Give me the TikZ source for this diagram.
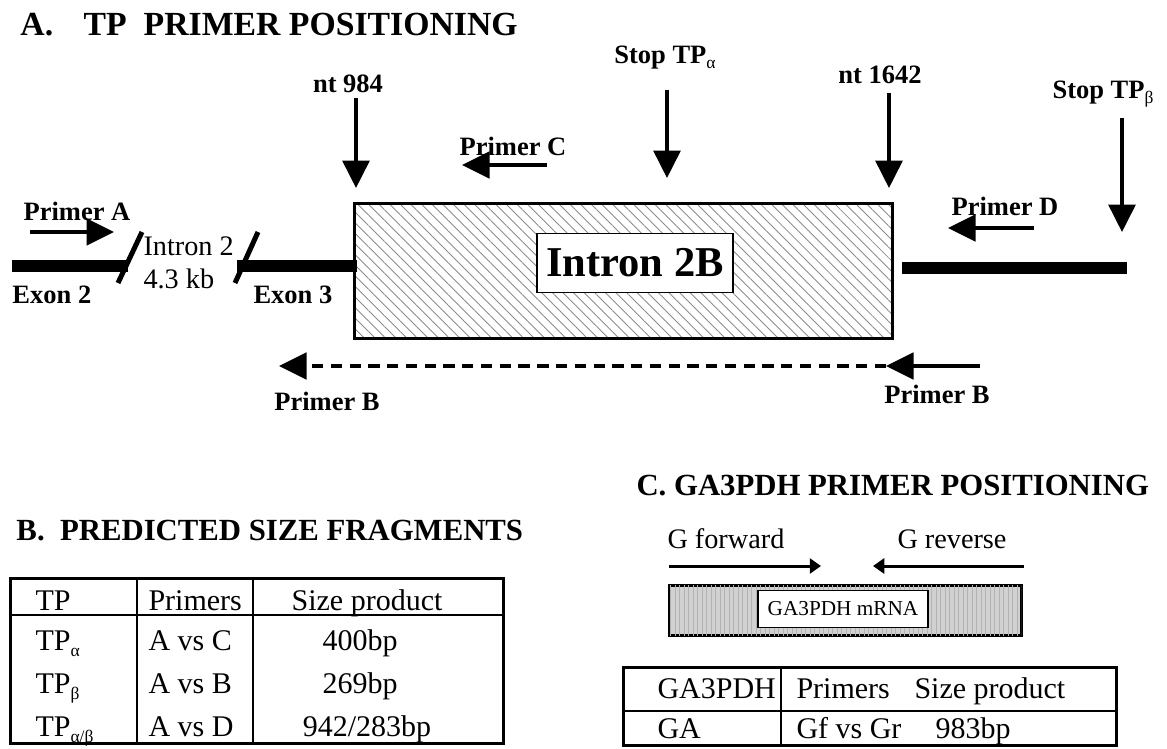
\documentclass[tikz,border=0pt]{standalone}
\usepackage{fontspec}
\setmainfont{Liberation Serif}
\usetikzlibrary{arrows.meta,patterns.meta}
\newcommand\titlefont{\fontsize{13.5}{15}\selectfont\bfseries}
\newcommand\headfont{\fontsize{12.3}{14}\selectfont\bfseries}
\newcommand\lblfont{\fontsize{10.6}{12}\selectfont\bfseries}
\newcommand\plainfont{\fontsize{11.3}{13}\selectfont}
\newcommand\tabfont{\fontsize{12}{14}\selectfont}
\newcommand\greeksub[1]{\raisebox{-0.45ex}{\normalfont\scriptsize #1}}
\begin{document}
\begin{tikzpicture}[x=0.4pt, y=-0.4pt,
  lbl/.style={font=\lblfont, inner sep=0pt, anchor=base},
  txt/.style={font=\plainfont, inner sep=0pt, anchor=base west},
  tab/.style={font=\tabfont, inner sep=0pt, anchor=base west},
  sitearrow/.style={line width=1.3pt, -{Triangle[length=11pt,width=10.8pt]}},
  primerarrow/.style={line width=1.6pt, -{Triangle[length=11pt,width=10.5pt]}},
  garrow/.style={line width=1.2pt, -{Triangle[length=4.5pt,width=6pt]}},
  exonbar/.style={line width=5pt},
  slashmark/.style={line width=2pt},
  tabline/.style={line width=1pt}]
  \useasboundingbox (0,0) rectangle (1167,748);
  % A. TP primer positioning
  \node[font=\titlefont, inner sep=0pt, anchor=base west] (titleA) at (20,35)
    {A.\hspace{0.9em}TP\hspace{0.5em}PRIMER POSITIONING};
  \draw[line width=1.2pt, pattern={Lines[angle=-45,distance=3pt,line width=0.35pt]},
    pattern color=black!45] (354,203) rectangle (892,338);
  \node[draw, fill=white, line width=0.6pt, minimum width=78.4pt, minimum height=23.5pt,
    font=\fontsize{17}{19}\selectfont\bfseries] (intron2b) at (635,263) {Intron 2B};
  % exons
  \coordinate (ex2a) at (12,266);   \coordinate (ex2b) at (128,266);
  \coordinate (ex3a) at (237,266);  \coordinate (ex3b) at (357,266);
  \coordinate (ex4a) at (902,268);  \coordinate (ex4b) at (1127,268);
  \draw[exonbar] (ex2a) -- (ex2b);
  \draw[exonbar] (ex3a) -- (ex3b);
  \draw[exonbar] (ex4a) -- (ex4b);
  \coordinate (cut1a) at (118,283); \coordinate (cut1b) at (142,232);
  \coordinate (cut2a) at (235,283); \coordinate (cut2b) at (258,232);
  \draw[slashmark] (cut1a) -- (cut1b);
  \draw[slashmark] (cut2a) -- (cut2b);
  \node[lbl, anchor=base west] (exon2) at (12,303) {Exon 2};
  \node[lbl, anchor=base west] (exon3) at (253,303) {Exon 3};
  \node[txt] (intron2) at (143,255) {Intron 2};
  \node[txt] (size43) at (143,288) {4.3 kb};
  % sites
  \node[lbl] (nt984) at (348,92) {nt 984};
  \coordinate (nt984a) at (356,98);  \coordinate (nt984b) at (356,188);
  \draw[sitearrow] (nt984a) -- (nt984b);
  \node[lbl] (stopA) at (665,63) {Stop TP\greeksub{α}};
  \coordinate (stopAa) at (667,90); \coordinate (stopAb) at (667,178);
  \draw[sitearrow] (stopAa) -- (stopAb);
  \node[lbl] (nt1642) at (880,83) {nt 1642};
  \coordinate (nt1642a) at (889,93); \coordinate (nt1642b) at (889,188);
  \draw[sitearrow] (nt1642a) -- (nt1642b);
  \node[lbl] (stopB) at (1103,98) {Stop TP\greeksub{β}};
  \coordinate (stopBa) at (1122,118); \coordinate (stopBb) at (1122,232);
  \draw[sitearrow] (stopBa) -- (stopBb);
  % primers
  \node[lbl] (primA) at (77,220) {Primer A};
  \coordinate (primAa) at (30,232); \coordinate (primAb) at (114,232);
  \draw[primerarrow] (primAa) -- (primAb);
  \node[lbl] (primC) at (513,155) {Primer C};
  \coordinate (primCa) at (547,165); \coordinate (primCb) at (462,165);
  \draw[primerarrow] (primCa) -- (primCb);
  \node[lbl] (primD) at (1005,215) {Primer D};
  \coordinate (primDa) at (1034,228); \coordinate (primDb) at (948,228);
  \draw[primerarrow] (primDa) -- (primDb);
  \coordinate (primBa) at (980,366); \coordinate (primBb) at (886,366);
  \coordinate (primBc) at (279,366);
  \draw[primerarrow] (primBa) -- (primBb);
  \draw[primerarrow, dash pattern=on 4.5pt off 3pt] (primBb) -- (primBc);
  \node[lbl] (primBl) at (327,410) {Primer B};
  \node[lbl] (primBr) at (937,403) {Primer B};
  % B. predicted size fragments
  \node[font=\headfont, inner sep=0pt, anchor=base west] (titleB) at (16,540)
    {B.\hspace{0.5em}PREDICTED SIZE FRAGMENTS};
  \draw[tabline, line width=1.2pt] (10,578) rectangle (503,743);
  \draw[tabline] (10,615) -- (503,615);
  \draw[tabline] (137,578) -- (137,743);
  \draw[tabline] (253,578) -- (253,743);
  \node[tab] (hTP) at (35,610) {TP};
  \node[tab] (hPrim) at (148,610) {Primers};
  \node[tab, anchor=base] (hSize) at (367,610) {Size product};
  \node[tab] (rTPa) at (35,650) {TP\greeksub{α}};
  \node[tab] (rPa) at (148,650) {A vs C};
  \node[tab, anchor=base] (rSa) at (360,650) {400bp};
  \node[tab] (rTPb) at (35,693) {TP\greeksub{β}};
  \node[tab] (rPb) at (148,693) {A vs B};
  \node[tab, anchor=base] (rSb) at (360,693) {269bp};
  \node[tab] (rTPab) at (35,736) {TP\greeksub{α/β}};
  \node[tab] (rPab) at (148,736) {A vs D};
  \node[tab, anchor=base] (rSab) at (367,736) {942/283bp};
  % C. GA3PDH primer positioning
  \node[font=\headfont, inner sep=0pt, anchor=base west] (titleC) at (636,495)
    {C. GA3PDH PRIMER POSITIONING};
  \node[txt] (gfwd) at (667,548) {G forward};
  \node[txt] (grev) at (897,548) {G reverse};
  \coordinate (gfa) at (669,566); \coordinate (gfb) at (821,566);
  \coordinate (gra) at (1024,566); \coordinate (grb) at (873,566);
  \draw[garrow] (gfa) -- (gfb);
  \draw[garrow] (gra) -- (grb);
  \draw[line width=1.2pt, fill=black!18,
    postaction={pattern={Lines[angle=90,distance=1.8pt,line width=0.3pt]}, pattern color=black!30}]
    (669,585) rectangle (1021,635);
  \node[draw, fill=white, line width=0.6pt, minimum width=68pt, minimum height=14.8pt,
    font=\fontsize{8.5}{10}\selectfont] (mrna) at (843,609) {GA3PDH mRNA};
  \draw[tabline, line width=1.2pt] (623,667) rectangle (1116,745);
  \draw[tabline] (623,711) -- (1116,711);
  \draw[tabline] (781,667) -- (781,745);
  \node[tab] (hGA) at (657,698) {GA3PDH};
  \node[tab] (hGP) at (796,698) {Primers};
  \node[tab] (hGS) at (914,698) {Size product};
  \node[tab] (rGA) at (657,738) {GA};
  \node[tab] (rGP) at (796,738) {Gf vs Gr};
  \node[tab] (rGS) at (935,738) {983bp};
\end{tikzpicture}
\end{document}
